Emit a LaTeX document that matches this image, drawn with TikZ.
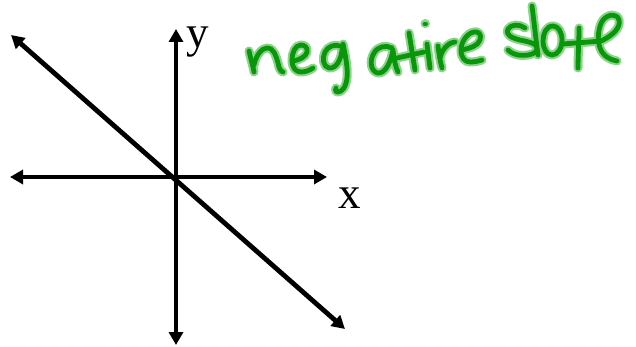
\documentclass[tikz,border=0pt]{standalone}
\usepackage{fontspec}
\setmainfont{Liberation Serif}
\usetikzlibrary{arrows.meta}
\definecolor{inkcore}{RGB}{10,150,10}
\definecolor{inkhalo}{RGB}{140,212,140}
\tikzset{
  bothaxis/.style={line width=4.8pt,{Triangle[length=13pt,width=14pt]}-{Triangle[length=13pt,width=14pt]}},
  lbl/.style={font=\fontsize{45}{48}\selectfont,inner sep=0pt,anchor=base},
  halo/.style={draw=inkhalo,line width=9pt,line cap=round,line join=round},
  core/.style={draw=inkcore,line width=4.8pt,line cap=round,line join=round},
}
\begin{document}
\begin{tikzpicture}[x=1pt,y=-1pt]
\useasboundingbox (0,0) rectangle (636,347);
\coordinate (xl) at (10,177);
\coordinate (xr) at (327,177);
\coordinate (yt) at (176,29);
\coordinate (yb) at (176,345);
\coordinate (dl) at (11,35);
\coordinate (dr) at (345,329);
\draw[bothaxis] (xl) -- (xr);
\draw[bothaxis] (yb) -- (yt);
\draw[bothaxis] (dl) -- (dr);
\node[lbl] (ylab) at (198,48) {y};
\node[lbl] (xlab) at (350,208) {x};
% handwritten "negative slope"
\foreach \s in {halo,core}{
\draw[\s] (249,51) .. controls (251,60) and (253,66) .. (254,72);
\draw[\s] (254,65) .. controls (256,55) and (262,48) .. (267,48) .. controls (274,48) and (276,56) .. (278,63) .. controls (279,68) and (280,71) .. (283,72);
\draw[\s] (293,61) .. controls (299,60) and (306,57) .. (307,52) .. controls (308,47) and (304,45) .. (301,45) .. controls (295,45) and (292,53) .. (292,60) .. controls (292,68) and (296,72) .. (301,72) .. controls (306,72) and (310,70) .. (313,68);
\draw[\s] (340,46) .. controls (335,44) and (328,46) .. (325,52) .. controls (322,58) and (323,67) .. (329,68) .. controls (336,69) and (341,60) .. (342,50);
\draw[\s] (343,44) .. controls (346,58) and (348,70) .. (347,78) .. controls (346,87) and (342,92) .. (338,92) .. controls (335,92) and (335,89) .. (336,88);
\draw[\s] (392,48) .. controls (386,45) and (378,46) .. (374,53) .. controls (369,61) and (371,72) .. (378,73) .. controls (385,74) and (391,62) .. (393,50) .. controls (394,58) and (395,66) .. (398,72);
\draw[\s] (409,33) .. controls (411,45) and (413,58) .. (415,70);
\draw[\s] (397,58) .. controls (406,56) and (415,54) .. (424,52);
\draw[\s] (425,24) -- (425.5,24);
\draw[\s] (427,44) .. controls (428,52) and (429,60) .. (430,68);
\draw[\s] (438,46) .. controls (439,54) and (440,61) .. (442,68);
\draw[\s] (440,58) .. controls (442,50) and (447,43) .. (455,42);
\draw[\s] (462,50) .. controls (470,48) and (478,46) .. (480,40) .. controls (482,34) and (478,31) .. (474,32) .. controls (467,33) and (461,42) .. (461,50) .. controls (461,58) and (465,62) .. (470,62) .. controls (475,62) and (479,61) .. (482,60);
\draw[\s] (525,28) .. controls (520,24) and (511,24) .. (508,29) .. controls (505,35) and (512,38) .. (520,40) .. controls (530,42) and (538,44) .. (537,49) .. controls (536,55) and (525,56) .. (518,55) .. controls (513,54) and (510,52) .. (508,50);
\draw[\s] (532,6) .. controls (534,22) and (536,40) .. (538,55);
\draw[\s] (553,26) .. controls (546,26) and (543,34) .. (543,41) .. controls (543,49) and (547,55) .. (552,55) .. controls (558,55) and (562,48) .. (562,40) .. controls (562,32) and (558,26) .. (553,26);
\draw[\s] (579,28) .. controls (579,42) and (578,56) .. (578,68);
\draw[\s] (563,44) .. controls (575,43) and (590,42) .. (601,41) .. controls (612,36) and (621,28) .. (619,20) .. controls (617,13) and (608,14) .. (603,20) .. controls (598,27) and (597,40) .. (600,48) .. controls (603,56) and (610,60) .. (617,61);
}
\end{tikzpicture}
\end{document}
